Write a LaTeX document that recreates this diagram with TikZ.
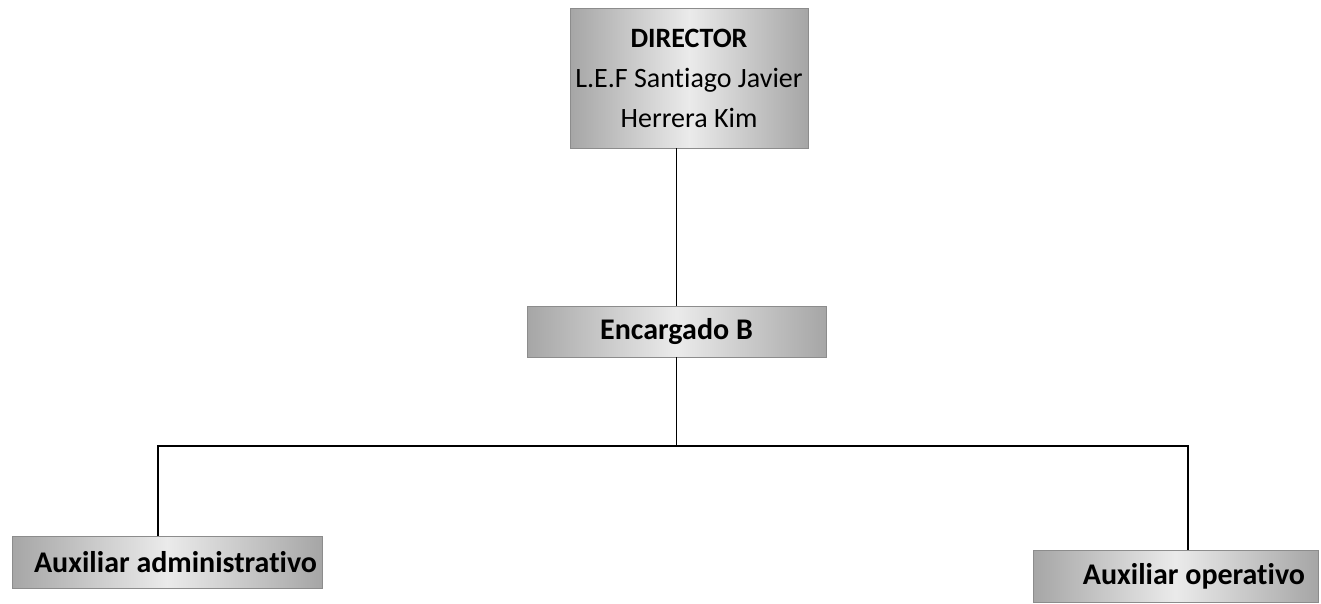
\documentclass[tikz,border=0pt]{standalone}
\usepackage{fontspec}
\setmainfont[Ligatures=NoCommon]{Carlito}
\begin{document}
\begin{tikzpicture}[x=1pt,y=-1pt,
  orgbox/.style={draw=black!45, line width=0.8pt, left color=black!35, right color=black!35, middle color=black!8,
    inner sep=0pt, font=\fontsize{28}{40}\selectfont, text=black},
  boldlabel/.style={font=\fontsize{30}{40}\selectfont\bfseries},
  conn/.style={line width=1.8pt, black}]
\useasboundingbox (0,0) rectangle (1321,603);
\node[orgbox, minimum width=238pt, minimum height=140pt, align=center] (dir) at (689,78)
  {\textbf{DIRECTOR}\\L.E.F Santiago Javier\\Herrera Kim};
\node[orgbox, boldlabel, minimum width=299pt, minimum height=51pt] (enc) at (676.5,331.5) {Encargado B};
\node[orgbox, boldlabel, minimum height=52pt, text width=300pt, inner xsep=5pt, align=flush right] (aux1) at (167,562) {Auxiliar administrativo};
\node[orgbox, boldlabel, minimum height=52pt, text width=259pt, inner xsep=13pt, align=flush right] (aux2) at (1175.5,576) {Auxiliar operativo};
\coordinate (l) at (158,446);
\coordinate (r) at (1188,446);
\draw[conn] (dir.south -| enc.north) -- (enc.north);
\draw[conn] (enc.south) -- (enc.south |- l);
\draw[conn] (aux1.north -| l) -- (l) -- (r) -- (aux2.north -| r);
\end{tikzpicture}
\end{document}
